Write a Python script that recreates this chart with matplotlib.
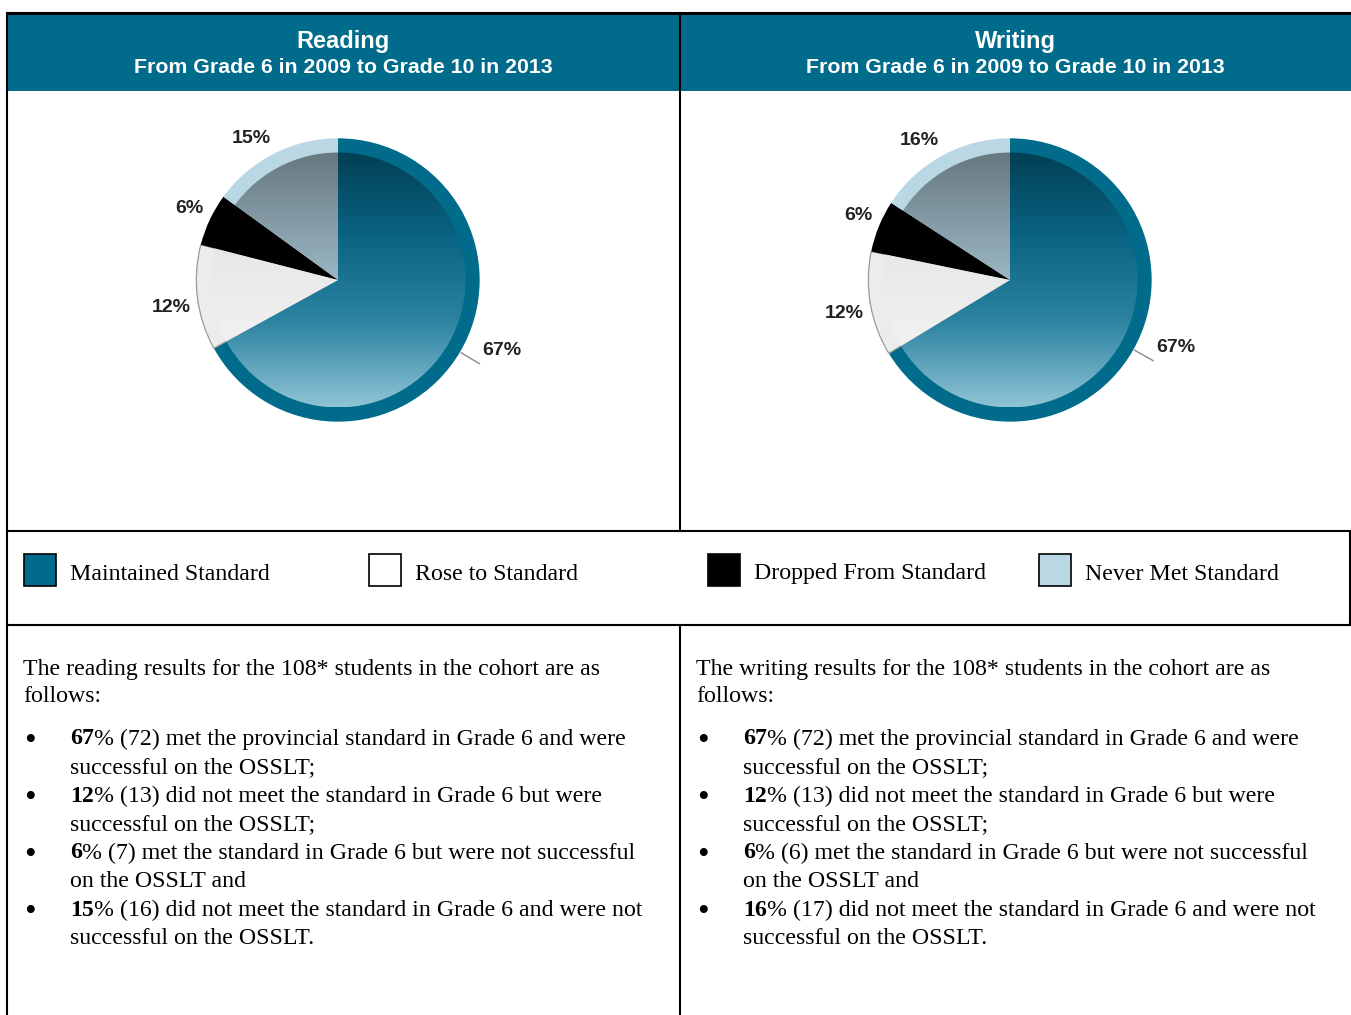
import matplotlib
matplotlib.use("Agg")
import matplotlib.pyplot as plt
import numpy as np
from matplotlib.colors import LinearSegmentedColormap
from matplotlib.patches import Rectangle

# ---- data -------------------------------------------------------------
categories = ["Maintained Standard", "Rose to Standard",
              "Dropped From Standard", "Never Met Standard"]
reading_pct = [67, 12, 6, 15]
writing_pct = [67, 12, 6, 16]
reading_counts = [72, 13, 7, 16]
writing_counts = [72, 13, 6, 17]
cohort_n = "108*"
panel_titles = ["Reading", "Writing"]
panel_subtitle = "From Grade 6 in 2009 to Grade 10 in 2013"
bullet_tails = [
    ("met the provincial standard in Grade 6 and were", "successful on the OSSLT;"),
    ("did not meet the standard in Grade 6 but were", "successful on the OSSLT;"),
    ("met the standard in Grade 6 but were not successful", "on the OSSLT and"),
    ("did not meet the standard in Grade 6 and were not", "successful on the OSSLT."),
]

# ---- style ------------------------------------------------------------
TEAL = "#006b8a"
ring_colors = [TEAL, "#ececec", "#000000", "#b9d8e4"]
legend_colors = [TEAL, "#ffffff", "#000000", "#b9d8e4"]
grad_colors = [
    ["#90c3d5", "#2c84a1", "#0a6483", "#023f54"],   # maintained (bottom -> top)
    ["#f7f7f7", "#efefef", "#e6e6e6", "#dedede"],   # rose
    None,                                          # dropped: solid black
    ["#d0e6ee", "#a9cad6", "#8aa3ae", "#68787f"],   # never met
]
SANS = "Liberation Sans"
SERIF = "Liberation Serif"
W, H = 1351, 1015
LW = 1.5
FS = 17.2

fig = plt.figure(figsize=(W / 100, H / 100), dpi=100)
base = fig.add_axes([0, 0, 1, 1])
base.set_xlim(0, W)
base.set_ylim(H, 0)
base.axis("off")

# frame and header band
base.add_patch(Rectangle((7, 13), W - 7, 78, facecolor=TEAL, edgecolor="none"))
base.plot([7, W], [13, 13], color="black", lw=2.2)
base.plot([7, 7], [13, H], color="black", lw=LW)
base.plot([680, 680], [13, 531], color="black", lw=LW)
base.plot([680, 680], [625, H], color="black", lw=LW)
base.plot([7, 1350], [531, 531], color="black", lw=LW)
base.plot([7, 1350], [625, 625], color="black", lw=LW)
base.plot([1350, 1350], [531, 625], color="black", lw=LW)

panel_cx = [343, 1015]
for cx, title in zip(panel_cx, panel_titles):
    base.text(cx, 41, title, ha="center", va="center", color="white",
              fontsize=17, fontweight="bold", family=SANS)
    base.text(cx, 67, panel_subtitle, ha="center", va="center", color="white",
              fontsize=15.3, fontweight="bold", family=SANS)


def draw_pie(center, values):
    size = 340
    ax = fig.add_axes([(center[0] - size / 2) / W, (H - center[1] - size / 2) / H,
                       size / W, size / H])
    outer, _ = ax.pie(values, colors=ring_colors, startangle=90,
                      counterclock=False, radius=1.0,
                      wedgeprops=dict(linewidth=0))
    outer[1].set_edgecolor("#9a9a9a")
    outer[1].set_linewidth(0.9)
    inner, _ = ax.pie(values, colors=ring_colors, startangle=90,
                      counterclock=False, radius=0.9,
                      wedgeprops=dict(linewidth=0))
    grad = np.linspace(0, 1, 256).reshape(-1, 1)
    for w, cols in zip(inner, grad_colors):
        if cols is None:
            continue
        w.set_facecolor("none")
        cmap = LinearSegmentedColormap.from_list("g", cols)
        im = ax.imshow(grad, cmap=cmap, extent=(-0.9, 0.9, -0.9, 0.9),
                       origin="lower", aspect="auto", zorder=1)
        im.set_clip_path(w)
    # labels
    for i, (w, v) in enumerate(zip(outer, values)):
        mid = np.deg2rad((w.theta1 + w.theta2) / 2)
        c, s = np.cos(mid), np.sin(mid)
        if i == 0:
            ax.plot([1.01 * c, 1.16 * c], [1.01 * s, 1.16 * s], color="#8a8a8a",
                    lw=1.0, zorder=3)
            ax.text(1.16 * c + 0.02, 1.16 * s + 0.03, f"{v}%", ha="left",
                    va="bottom", fontsize=14, fontweight="bold", family=SANS,
                    color="#222222")
        else:
            r = 1.05
            ax.text(r * c, r * s, f"{v}%",
                    ha="right" if c < 0 else "left",
                    va="bottom" if s > 0 else "top",
                    fontsize=14, fontweight="bold", family=SANS,
                    color="#222222")
    ax.set_xlim(-1.2, 1.2)
    ax.set_ylim(-1.2, 1.2)
    ax.set_aspect("equal")
    ax.axis("off")


draw_pie((338, 280), reading_pct)
draw_pie((1010, 280), writing_pct)

# legend row
legend_x = [24, 369, 708, 1039]
for x, label, col in zip(legend_x, categories, legend_colors):
    base.add_patch(Rectangle((x, 554), 32, 32, facecolor=col, edgecolor="black",
                             lw=1.2))
    base.text(x + 46, 574, label, ha="left", va="center", fontsize=FS,
              family=SERIF)

# text blocks
renderer = fig.canvas.get_renderer()
line_gap = 28.5
for px, subject, pct, cnt in [(23, "reading", reading_pct, reading_counts),
                              (696, "writing", writing_pct, writing_counts)]:
    base.text(px, 669, f"The {subject} results for the {cohort_n} students in the cohort are as",
              ha="left", va="center", fontsize=FS, family=SERIF)
    base.text(px, 696, "follows:", ha="left", va="center", fontsize=FS, family=SERIF)
    y = 739
    for p, c, (l1, l2) in zip(pct, cnt, bullet_tails):
        base.text(px + 7, y + 3, "\u2022", ha="center", va="center", fontsize=24,
                  family=SERIF)
        tb = base.text(px + 47, y, f"{p}", ha="left", va="center", fontsize=FS,
                       fontweight="bold", family=SERIF)
        bb = tb.get_window_extent(renderer)
        base.text(px + 47 + bb.width, y, f"% ({c}) {l1}", ha="left", va="center",
                  fontsize=FS, family=SERIF)
        base.text(px + 47, y + line_gap, l2, ha="left", va="center",
                  fontsize=FS, family=SERIF)
        y += 2 * line_gap

fig.savefig("out.png", dpi=100)
